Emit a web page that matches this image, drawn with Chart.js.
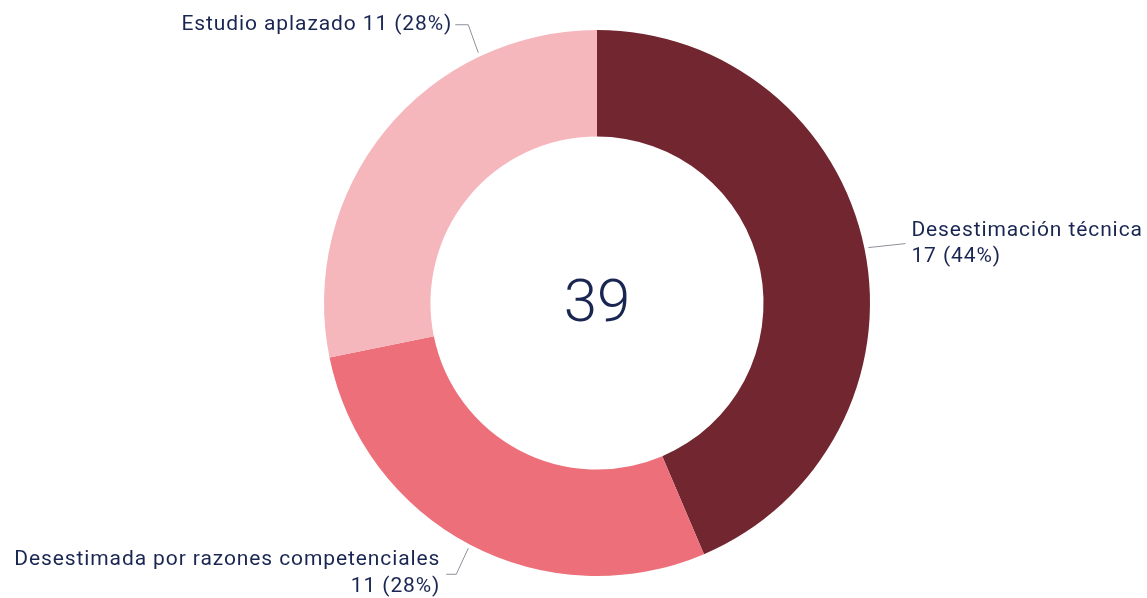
<!DOCTYPE html>
<html>
<head>
<meta charset="utf-8">
<script src="https://cdn.jsdelivr.net/npm/chart.js@4.4.0/dist/chart.umd.min.js"></script>
<style>
  html, body { margin: 0; padding: 0; background: #fff; }
  #wrap { width: 1147px; height: 598px; position: relative; }
</style>
</head>
<body>
<div id="wrap"><canvas id="grafico"></canvas></div>
<script>
const categorias = ['Desestimación técnica', 'Desestimada por razones competenciales', 'Estudio aplazado'];
const valores = [17, 11, 11];
const colores = ['#722630', '#EC6F7A', '#F5B6BC'];

const total = valores.reduce((a, b) => a + b, 0);
const pct = v => Math.round(v / total * 100) + '%';

// textos de las etiquetas (por categoría)
const etiquetas = [
    [categorias[0], valores[0] + ' (' + pct(valores[0]) + ')'],
    [categorias[1], valores[1] + ' (' + pct(valores[1]) + ')'],
    [categorias[2] + ' ' + valores[2] + ' (' + pct(valores[2]) + ')']
];

// colocación de cada etiqueta: fracción del arco, codo, tramo horizontal
const colocacion = [
    { frac: 0.5, dx: 37, dy: -4, h: 0, align: 'left', gap: 6, lineH: 26 },
    { frac: 0.5, dx: -12, dy: 26, h: -10, align: 'right', gap: 6, lineH: 27 },
    { frac: 0.75, dx: -10, dy: -28, h: -13, align: 'right', gap: 3, lineH: 26 }
];

const etiquetasPlugin = {
    id: 'etiquetas',
    afterDraw(chart) {
        const ctx = chart.ctx;
        const meta = chart.getDatasetMeta(0);
        ctx.save();
        meta.data.forEach((arc, i) => {
            const c = colocacion[i];
            const ang = arc.startAngle + (arc.endAngle - arc.startAngle) * c.frac;
            const r = arc.outerRadius + 4;
            const px = arc.x + Math.cos(ang) * r;
            const py = arc.y + Math.sin(ang) * r;
            const ex = px + c.dx, ey = py + c.dy;
            const fx = ex + c.h;
            ctx.strokeStyle = '#8c9099';
            ctx.lineWidth = 1;
            ctx.beginPath();
            ctx.moveTo(px, py);
            ctx.lineTo(ex, ey);
            ctx.lineTo(fx, ey);
            ctx.stroke();

            const lineas = etiquetas[i];
            ctx.fillStyle = '#1a2652';
            ctx.font = '21px Roboto';
            ctx.letterSpacing = '0.9px';
            ctx.textBaseline = 'middle';
            ctx.textAlign = c.align;
            const tx = c.align === 'left' ? fx + c.gap : fx - c.gap;
            let ty;
            if (i === 1) ty = ey - 15;
            else ty = ey - (lineas.length - 1) * c.lineH / 2;
            lineas.forEach((t, k) => ctx.fillText(t, tx, ty + k * c.lineH));
        });
        // total en el centro
        const a = meta.data[0];
        ctx.letterSpacing = '0px';
        ctx.font = '300 60px Roboto';
        ctx.textAlign = 'center';
        ctx.textBaseline = 'middle';
        ctx.fillStyle = '#1a2652';
        ctx.fillText(String(total), a.x, a.y + 3);
        ctx.restore();
    }
};

new Chart(document.getElementById('grafico').getContext('2d'), {
    type: 'doughnut',
    data: {
        labels: categorias,
        datasets: [{
            data: valores,
            backgroundColor: colores,
            borderWidth: 0
        }]
    },
    options: {
        responsive: true,
        maintainAspectRatio: false,
        animation: false,
        cutout: '61%',
        layout: { padding: { top: 30, bottom: 22, left: 47, right: 0 } },
        plugins: {
            legend: { display: false },
            tooltip: { enabled: false }
        }
    },
    plugins: [etiquetasPlugin]
});
</script>
</body>
</html>
